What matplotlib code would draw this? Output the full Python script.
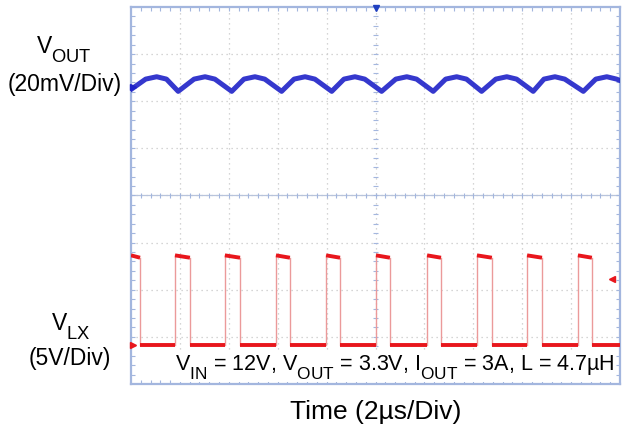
import matplotlib
matplotlib.use("Agg")
import matplotlib.pyplot as plt
import matplotlib._mathtext as _mt
import numpy as np

_mt.SHRINK_FACTOR = 0.8            # larger subscripts, as in the reference
_mt.FontConstantsBase.sub1 = 0.75  # subscripts dropped lower, as in the reference

plt.rcParams['font.family'] = ['Liberation Sans', 'DejaVu Sans']
plt.rcParams['mathtext.fontset'] = 'custom'
plt.rcParams['mathtext.rm'] = 'Liberation Sans'
plt.rcParams['mathtext.it'] = 'Liberation Sans'

# ---- data (time in microseconds, amplitude in screen divisions) ----
# VOUT ripple points
vout_t = [0.00, 0.60, 1.05, 1.45, 1.93, 2.58, 3.03, 3.43, 4.12, 4.62, 5.07, 5.47,
          6.16, 6.67, 7.12, 7.52, 8.21, 8.71, 9.16, 9.56, 10.25, 10.83, 11.28, 11.68,
          12.36, 12.87, 13.32, 13.72, 14.34, 14.92, 15.37, 15.77, 16.45, 16.89, 17.34,
          17.74, 18.50, 19.01, 19.46, 19.86, 20.00]
vout_v = [6.25, 6.47, 6.52, 6.47, 6.21, 6.47, 6.52, 6.47, 6.21, 6.47, 6.52, 6.47,
          6.21, 6.47, 6.52, 6.47, 6.21, 6.47, 6.52, 6.47, 6.21, 6.47, 6.52, 6.47,
          6.21, 6.47, 6.52, 6.47, 6.21, 6.47, 6.52, 6.47, 6.21, 6.47, 6.52,
          6.47, 6.21, 6.47, 6.52, 6.47, 6.44]

# VLX switching node: edge times
lx_rise = [1.80, 3.84, 5.93, 7.98, 10.02, 12.11, 14.15, 16.20, 18.28]
lx_fall = [0.37, 2.41, 4.46, 6.50, 8.55, 10.59, 12.68, 14.76, 16.81, 18.85]
lx_high_start = 2.73
lx_high_end = 2.68
lx_low = 0.83

t_span = 20.0          # 10 div x 2 us
n_vdiv = 8
blue = '#1f22c8'
red = '#e8161c'
frame_col = '#a3b6de'
grid_col = '#c8c8c8'

fig = plt.figure(figsize=(6.24, 4.32), dpi=100)
ax = fig.add_axes([131/624, 1-384/432, 489/624, 377/432])
ax.set_xlim(0, t_span)
ax.set_ylim(0, n_vdiv)

# grid
for gx in np.arange(2, t_span, 2):
    ax.axvline(gx, color=grid_col, lw=0.9, ls=(0, (1, 3)), zorder=1)
for gy in np.arange(1, n_vdiv, 1):
    ax.axhline(gy, color=grid_col, lw=0.9, ls=(0, (1, 3)), zorder=1)

# frame ticks
ax.set_xticks([])
ax.set_yticks([])
ax.set_xticks(np.arange(0.4, t_span, 0.4), minor=True)
ax.set_yticks(np.arange(0.2, n_vdiv, 0.2), minor=True)
ax.tick_params(which='minor', direction='in', length=3, width=0.8,
               color=frame_col, top=True, right=True, labelbottom=False, labelleft=False)
for s in ax.spines.values():
    s.set_color(frame_col)
    s.set_linewidth(1.6)

# centre lines ticks
ax.axhline(n_vdiv/2, color='#b8c4dc', lw=0.9, zorder=1)
mx = np.arange(0.4, t_span, 0.4)
my = np.arange(0.2, n_vdiv, 0.2)
ax.vlines(mx, n_vdiv/2 - 0.06, n_vdiv/2 + 0.06, color=frame_col, lw=0.8, zorder=1)
ax.hlines(my, t_span/2 - 0.12, t_span/2 + 0.12, color=frame_col, lw=0.8, zorder=1)

# VOUT trace
ax.plot(vout_t, vout_v, color=blue, lw=3.6, solid_joinstyle='round', zorder=3, alpha=0.9)

# VLX trace
edges = sorted([(t, 'f') for t in lx_fall] + [(t, 'r') for t in lx_rise])
prev = 0.0
state = 'h'
for t, kind in edges + [(t_span, 'end')]:
    if state == 'h':
        ax.plot([prev, t], [lx_high_start, lx_high_end],
                color=red, lw=2.8, zorder=3, solid_capstyle='butt')
    else:
        ax.plot([prev, t], [lx_low, lx_low], color=red, lw=2.8, zorder=3, solid_capstyle='butt')
    if kind == 'f':
        ax.plot([t, t], [lx_high_end, lx_low], color='#eb9a9a', lw=1.0, zorder=2)
        state = 'l'
    elif kind == 'r':
        ax.plot([t, t], [lx_low, lx_high_start], color='#eb9a9a', lw=1.0, zorder=2)
        state = 'h'
    prev = t

# markers
ax.plot([t_span/2], [n_vdiv - 0.03], marker='v', color='#2040c0', ms=5, clip_on=False, zorder=5)
ax.plot([0.1], [6.30], marker='>', color=blue, ms=4, clip_on=False, zorder=5)
ax.plot([0.1], [lx_low], marker='>', color=red, ms=4, clip_on=False, zorder=5)
ax.plot([19.67], [2.23], marker='<', color=red, ms=5, clip_on=False, zorder=5)

# condition text
ax.text(0.54, (384-370)/377,
        r'V$_{\mathregular{IN}}$ = 12V, V$_{\mathregular{OUT}}$ = 3.3V, I$_{\mathregular{OUT}}$ = 3A, L = 4.7µH',
        transform=ax.transAxes, ha='center', va='baseline', fontsize=15.5, color='black',
        bbox=dict(facecolor='white', edgecolor='none', pad=1.0), zorder=6)

# channel labels
fig.text(64/624, 1-53/432, r'V$_{\mathregular{OUT}}$', ha='center', va='baseline', fontsize=16.5)
fig.text(65/624, 1-84/432, '(20mV/Div)', ha='center', va='center', fontsize=16.5)
fig.text(71/624, 1-330/432, r'V$_{\mathregular{LX}}$', ha='center', va='baseline', fontsize=16.5)
fig.text(70/624, 1-358/432, '(5V/Div)', ha='center', va='center', fontsize=16.5)
fig.text(376/624, 1-412/432, 'Time (2µs/Div)', ha='center', va='center', fontsize=19)

fig.savefig('out.png', dpi=100)
